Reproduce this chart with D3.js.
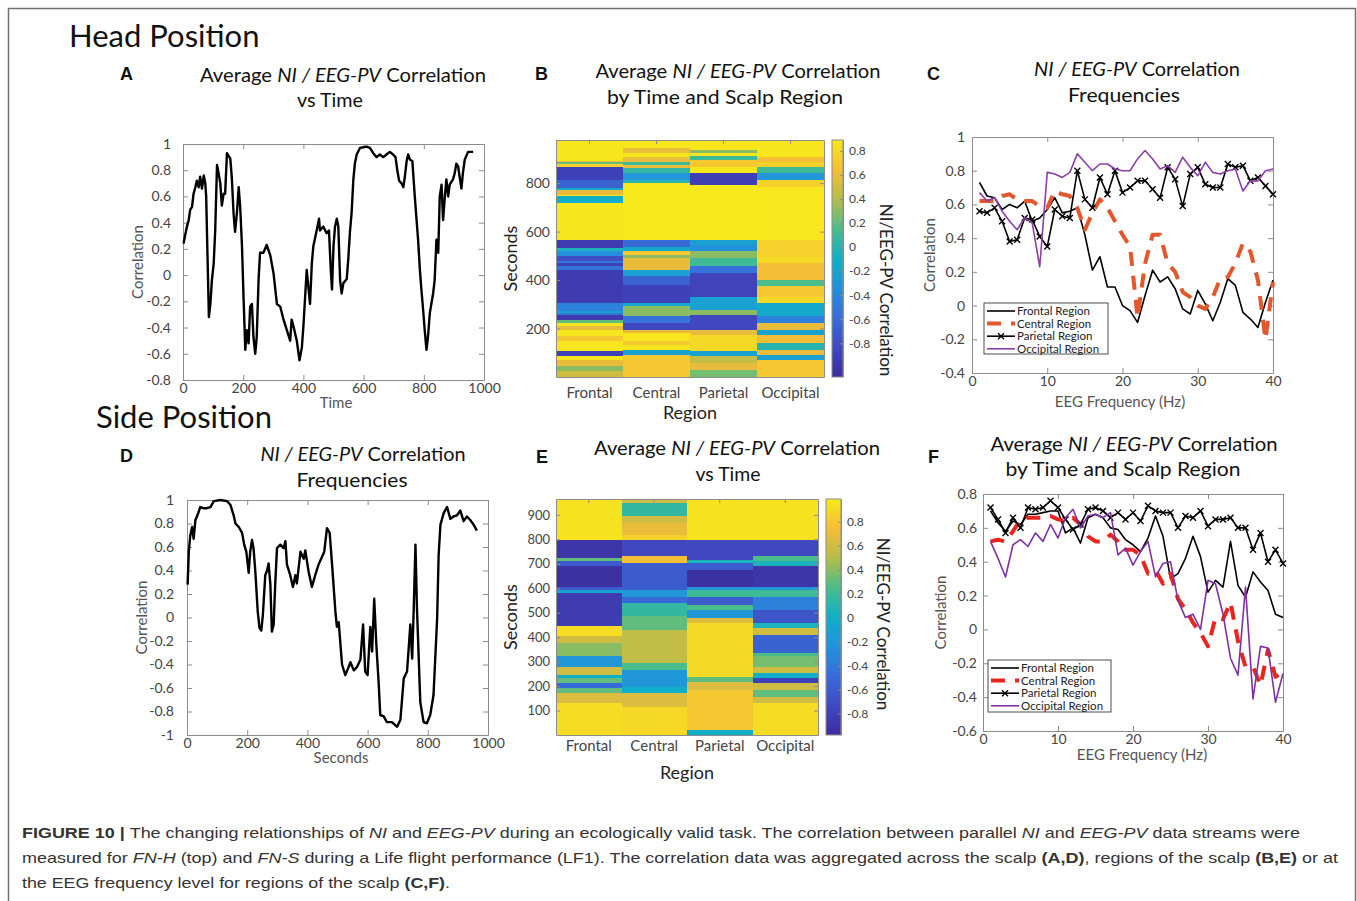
<!DOCTYPE html>
<html>
<head>
<meta charset="utf-8">
<script src="https://cdn.jsdelivr.net/npm/d3@7"></script>
<style>
  body { margin: 0; background: #fff; }
  svg { display: block; font-family: Lato, "Open Sans", sans-serif; }
</style>
</head>
<body>
<svg id="fig" width="1357" height="901"></svg>
<script>
// ---------------- data ----------------
const regions = ["Frontal", "Central", "Parietal", "Occipital"];

// A: head position, average correlation vs time
const aSeconds = [2, 6, 13, 19, 24, 30, 35, 41, 46, 52,
  57, 63, 69, 74, 77, 82, 86, 91, 96, 102,
  107, 113, 118, 124, 129, 135, 140, 146, 151, 157,
  162, 168, 173, 179, 185, 190, 196, 201, 207, 212,
  218, 223, 229, 234, 240, 245, 251, 256, 267, 278,
  290, 301, 312, 323, 334, 345, 356, 361, 367, 378,
  387, 395, 400, 411, 422, 428, 433, 444, 452, 455,
  466, 477, 485, 491, 495, 500, 505, 511, 516, 522,
  527, 533, 544, 549, 555, 560, 566, 571, 577, 588,
  610, 621, 632, 643, 654, 665, 676, 687, 698, 706,
  712, 718, 726, 732, 737, 743, 748, 754, 762, 770,
  781, 787, 792, 798, 803, 809, 814, 820, 825, 831,
  836, 842, 848, 853, 859, 864, 870, 875, 881, 886,
  897, 903, 908, 914, 919, 925, 930, 936, 947, 964];
const aCorr = [0.24, 0.29, 0.37, 0.42, 0.50, 0.52, 0.62, 0.67, 0.72, 0.67,
  0.75, 0.66, 0.76, 0.70, 0.60, 0.09, -0.32, -0.22, -0.04, 0.09,
  0.34, 0.84, 0.78, 0.70, 0.53, 0.62, 0.62, 0.93, 0.91, 0.89,
  0.75, 0.47, 0.33, 0.47, 0.67, 0.52, 0.22, -0.16, -0.57, -0.42,
  -0.52, -0.24, -0.22, -0.47, -0.60, -0.47, -0.04, 0.17, 0.17, 0.23,
  0.15, 0.01, -0.22, -0.24, -0.34, -0.42, -0.50, -0.34, -0.39, -0.50,
  -0.65, -0.55, -0.39, 0.04, -0.22, 0.09, 0.22, 0.34, 0.43, 0.34,
  0.37, 0.32, 0.34, 0.04, -0.11, 0.22, 0.37, 0.43, 0.37, -0.04,
  -0.14, -0.06, -0.03, 0.12, 0.34, 0.47, 0.73, 0.85, 0.92, 0.97,
  0.98, 0.97, 0.93, 0.90, 0.92, 0.90, 0.92, 0.94, 0.92, 0.90,
  0.80, 0.72, 0.70, 0.67, 0.75, 0.87, 0.92, 0.88, 0.87, 0.60,
  0.27, 0.04, -0.11, -0.27, -0.42, -0.57, -0.47, -0.29, -0.22, -0.14,
  -0.04, 0.27, 0.17, 0.60, 0.69, 0.42, 0.60, 0.73, 0.60, 0.69,
  0.73, 0.78, 0.85, 0.83, 0.75, 0.66, 0.78, 0.88, 0.94, 0.94];

// D: side position, correlation vs seconds
const dSeconds = [2, 6, 11, 17, 22, 28, 33, 39, 44, 55,
  66, 78, 89, 111, 133, 144, 155, 161, 172, 183,
  190, 197, 205, 210, 216, 221, 227, 235, 241, 247,
  252, 260, 266, 271, 277, 282, 288, 293, 299, 310,
  321, 327, 332, 343, 352, 360, 365, 377, 388, 393,
  404, 415, 426, 437, 449, 456, 465, 474, 482, 493,
  498, 504, 515, 526, 537, 543, 554, 565, 576, 585,
  592, 600, 609, 615, 622, 629, 637, 642, 653, 664,
  681, 698, 709, 720, 731, 742, 748, 753, 759, 764,
  775, 786, 797, 808, 819, 831, 836, 842, 853, 864,
  875, 886, 897, 908, 919, 930, 941, 952, 963];
const dCorr = [0.28, 0.56, 0.70, 0.77, 0.67, 0.83, 0.86, 0.90, 0.94, 0.93,
  0.93, 0.94, 0.99, 1.00, 0.99, 0.96, 0.87, 0.80, 0.77, 0.72,
  0.62, 0.56, 0.38, 0.56, 0.66, 0.59, 0.39, 0.05, -0.09, -0.11,
  0.02, 0.36, 0.40, 0.46, 0.28, -0.12, -0.06, 0.28, 0.59, 0.62,
  0.59, 0.65, 0.45, 0.36, 0.26, 0.36, 0.29, 0.56, 0.50, 0.57,
  0.39, 0.26, 0.36, 0.45, 0.52, 0.56, 0.76, 0.72, 0.45, 0.05,
  -0.08, -0.04, -0.40, -0.49, -0.42, -0.38, -0.45, -0.42, -0.36, -0.06,
  -0.46, -0.49, -0.08, -0.29, 0.16, -0.23, -0.57, -0.83, -0.84, -0.89,
  -0.89, -0.93, -0.87, -0.52, -0.46, -0.06, -0.35, 0.05, 0.62, 0.08,
  -0.72, -0.89, -0.90, -0.83, -0.66, -0.01, 0.53, 0.79, 0.89, 0.94,
  0.84, 0.86, 0.87, 0.91, 0.82, 0.86, 0.83, 0.79, 0.74];

// B: head position heat map, bands as [top second, correlation], each band runs down to the next
const bFrontal = [[978, 0.87], [892, 0.6], [886, 0.2], [880, 0.75], [865, -0.9], [813, -0.65], [779, -0.15],
  [772, 0.6], [751, 0.87], [745, -0.1], [720, 0.87], [566, -0.95], [532, -0.05], [518, -0.35], [500, -0.8],
  [477, -0.5], [470, -0.9], [456, -0.55], [440, -0.95], [305, -0.45], [271, -0.2], [266, -0.5], [257, -0.95],
  [236, 0.2], [223, 0.87], [209, 0.6], [195, 0.87], [170, 0.7], [150, 0.87], [106, -0.9], [85, 0.87],
  [71, 0.6], [44, 0.3], [23, 0.5]];
const bCentral = [[978, 0.87], [944, 0.6], [923, 0.87], [909, 0.6], [889, 0.1], [875, 0.6], [861, 0.05],
  [841, -0.3], [813, 0.0], [799, 0.89], [566, -0.6], [538, -0.15], [518, 0.7], [504, 0.3], [490, 0.6],
  [442, -0.2], [415, -0.65], [380, -0.9], [305, -0.15], [291, 0.3], [250, -0.55], [223, -0.85], [195, 0.6],
  [181, 0.87], [150, 0.7], [130, 0.87], [113, -0.2], [92, 0.7]];
const bParietal = [[978, 0.87], [937, 0.3], [923, 0.87], [912, 0.1], [896, 0.7], [868, 0.87], [841, -0.92],
  [793, 0.89], [566, -0.2], [545, -0.35], [518, 0.3], [490, 0.1], [456, -0.55], [429, -0.88], [332, -0.2],
  [277, 0.3], [257, -0.85], [195, 0.6], [174, 0.8], [106, -0.2], [85, 0.45], [58, 0.6], [30, 0.25]];
const bOccipital = [[978, 0.87], [909, 0.65], [889, 0.75], [868, 0.1], [841, -0.3], [813, 0.75], [786, 0.88],
  [566, 0.75], [497, 0.8], [470, 0.65], [401, 0.15], [374, 0.7], [332, 0.8], [305, -0.15], [250, -0.45],
  [223, 0.6], [195, -0.2], [174, 0.65], [140, 0.0], [113, 0.6], [92, -0.2], [71, 0.7]];

// E: side position heat map
const eFrontal = [[965, 0.95], [799, -0.9], [723, 0.3], [710, -0.6], [689, -0.95], [607, -0.6], [594, -0.1],
  [580, -0.85], [444, 0.92], [403, 0.6], [375, 0.4], [321, -0.2], [280, 0.6], [246, 0.0], [232, 0.3],
  [212, -0.5], [191, 0.3], [171, 0.65], [130, 0.92]];
const eCentral = [[965, 0.6], [949, 0.15], [894, 0.6], [867, 0.7], [819, 0.85], [799, -0.75], [730, 0.75],
  [703, -0.6], [594, -0.2], [566, -0.5], [539, 0.15], [485, 0.3], [430, 0.55], [389, 0.55], [293, 0.25],
  [266, -0.2], [198, 0.0], [171, 0.65], [116, 0.9]];
const eParietal = [[965, 0.95], [799, -0.75], [717, 0.05], [703, -0.6], [676, -0.95], [607, -0.2], [594, 0.2],
  [566, -0.6], [532, 0.25], [512, -0.2], [478, 0.65], [457, 0.9], [239, 0.3], [218, 0.65], [184, 0.8],
  [20, 0.0]];
const eOccipital = [[965, 0.95], [799, -0.75], [730, 0.25], [710, 0.05], [689, -0.9], [607, -0.2], [594, 0.2],
  [566, -0.35], [512, -0.65], [457, 0.05], [437, 0.6], [410, -0.55], [334, 0.25], [321, 0.35], [280, 0.6],
  [253, 0.0], [232, -0.8], [212, 0.6], [184, 0.3], [157, 0.6], [130, 0.92]];

// C and F: correlation by EEG frequency
const freqHz = [1, 2, 3, 4, 5, 6, 7, 8, 9, 10, 11, 12, 13, 14, 15, 16, 17, 18, 19, 20,
  21, 22, 23, 24, 25, 26, 27, 28, 29, 30, 31, 32, 33, 34, 35, 36, 37, 38, 39, 40];
const cFrontal = [0.73, 0.65, 0.64, 0.57, 0.60, 0.58, 0.62, 0.50, 0.52, 0.57, 0.64, 0.55, 0.56, 0.58, 0.42, 0.21, 0.29, 0.11, 0.11, 0.00,
  -0.03, -0.10, 0.06, 0.21, 0.14, 0.17, 0.10, -0.02, -0.05, 0.09, 0.01, -0.09, 0.02, 0.16, 0.12, -0.04, -0.08, -0.13, 0.02, 0.15];
const cCentral = [0.62, 0.62, 0.62, 0.65, 0.66, 0.63, 0.62, 0.62, 0.59, 0.58, 0.68, 0.66, 0.65, 0.58, 0.45, 0.55, 0.63, 0.58, 0.50, 0.42,
  0.35, -0.07, 0.25, 0.42, 0.42, 0.25, 0.20, 0.08, 0.05, 0.00, -0.02, 0.05, 0.16, 0.17, 0.25, 0.37, 0.32, 0.15, -0.20, 0.14];
const cParietal = [0.56, 0.55, 0.58, 0.50, 0.38, 0.39, 0.52, 0.51, 0.41, 0.35, 0.57, 0.53, 0.52, 0.80, 0.63, 0.58, 0.76, 0.66, 0.80, 0.67,
  0.70, 0.74, 0.74, 0.69, 0.64, 0.82, 0.75, 0.59, 0.78, 0.82, 0.72, 0.70, 0.70, 0.84, 0.82, 0.83, 0.74, 0.76, 0.71, 0.66];
const cOccipital = [0.67, 0.62, 0.64, 0.56, 0.50, 0.45, 0.52, 0.49, 0.23, 0.79, 0.78, 0.76, 0.79, 0.90, 0.85, 0.80, 0.84, 0.84, 0.81, 0.80,
  0.80, 0.87, 0.92, 0.87, 0.81, 0.83, 0.79, 0.88, 0.82, 0.77, 0.85, 0.79, 0.78, 0.80, 0.81, 0.68, 0.74, 0.74, 0.80, 0.81];
const fFrontal = [0.70, 0.63, 0.58, 0.64, 0.62, 0.68, 0.68, 0.69, 0.70, 0.70, 0.57, 0.60, 0.51, 0.66, 0.68, 0.66, 0.60, 0.59, 0.53, 0.50,
  0.46, 0.54, 0.67, 0.55, 0.30, 0.33, 0.42, 0.55, 0.43, 0.22, 0.29, 0.25, 0.52, 0.26, 0.19, 0.34, 0.28, 0.23, 0.09, 0.07];
const fCentral = [0.52, 0.53, 0.52, 0.58, 0.65, 0.66, 0.66, 0.66, 0.67, 0.65, 0.64, 0.66, 0.62, 0.55, 0.52, 0.52, 0.56, 0.52, 0.47, 0.47,
  0.44, 0.33, 0.35, 0.27, 0.33, 0.18, 0.12, 0.04, -0.02, -0.10, 0.07, 0.06, 0.16, -0.07, -0.22, -0.22, -0.33, -0.12, -0.28, -0.25];
const fParietal = [0.72, 0.65, 0.57, 0.66, 0.60, 0.72, 0.71, 0.72, 0.76, 0.72, 0.65, 0.59, 0.62, 0.71, 0.72, 0.70, 0.66, 0.69, 0.65, 0.69,
  0.64, 0.73, 0.70, 0.69, 0.69, 0.60, 0.67, 0.66, 0.70, 0.61, 0.65, 0.65, 0.66, 0.60, 0.60, 0.47, 0.57, 0.40, 0.47, 0.39];
const fOccipital = [0.52, 0.42, 0.31, 0.50, 0.53, 0.49, 0.57, 0.52, 0.62, 0.54, 0.66, 0.71, 0.60, 0.67, 0.68, 0.66, 0.69, 0.44, 0.48, 0.38,
  0.46, 0.52, 0.31, 0.39, 0.40, 0.17, 0.07, 0.09, 0.00, 0.29, 0.27, 0.09, -0.17, -0.27, 0.25, -0.41, -0.10, -0.11, -0.43, -0.26];

// tick values
const timeTicks = [0, 200, 400, 600, 800, 1000];
const aCorrTicks = [-0.8, -0.6, -0.4, -0.2, 0, 0.2, 0.4, 0.6, 0.8, 1];
const dCorrTicks = [-1, -0.8, -0.6, -0.4, -0.2, 0, 0.2, 0.4, 0.6, 0.8, 1];
const freqTicks = [0, 10, 20, 30, 40];
const cCorrTicks = [-0.4, -0.2, 0, 0.2, 0.4, 0.6, 0.8, 1];
const fCorrTicks = [-0.6, -0.4, -0.2, 0, 0.2, 0.4, 0.6, 0.8];
const bSecTicks = [200, 400, 600, 800];
const eSecTicks = [100, 200, 300, 400, 500, 600, 700, 800, 900];
const cbarTicks = [-0.8, -0.6, -0.4, -0.2, 0, 0.2, 0.4, 0.6, 0.8];

// parula-like colour map, evenly spaced over the colour bar range
const parula = ["#3d2c9c", "#4049c2", "#386cd8", "#2491dc", "#10afc8", "#4bbd8a", "#b4bd4a", "#f5bd38", "#f7e91b"];

// ---------------- drawing ----------------
const svg = d3.select("#fig");
const fmt = d => String(Math.round(d * 10) / 10);
const FONT = "Lato, 'Open Sans', sans-serif";

svg.append("rect")
  .attr("x", 8.5).attr("y", 8.5).attr("width", 1347).attr("height", 900)
  .attr("fill", "none").attr("stroke", "#707070").attr("stroke-width", 1.5);

function styleAxis(sel, fs) {
  sel.attr("font-family", FONT).attr("font-size", fs);
  sel.selectAll("path, line").attr("stroke", "#8c8c8c");
  sel.selectAll("text").attr("fill", "#444");
}

function axesBox(g, x, y, o) {
  const [x0, x1] = x.range();
  const [y0, y1] = y.range();
  const add = (gen, tx, ty) => g.append("g")
    .attr("transform", `translate(${tx},${ty})`)
    .call(gen).call(s => styleAxis(s, o.fs));
  add(d3.axisBottom(x).tickValues(o.xt).tickSizeInner(-5).tickSizeOuter(0).tickPadding(o.xp).tickFormat(o.xf || fmt), 0, y0);
  add(d3.axisTop(x).tickValues(o.xt).tickSizeInner(-5).tickSizeOuter(0).tickFormat(""), 0, y1);
  add(d3.axisLeft(y).tickValues(o.yt).tickSizeInner(-5).tickSizeOuter(0).tickPadding(o.yp).tickFormat(fmt), x0, 0);
  add(d3.axisRight(y).tickValues(o.yt).tickSizeInner(-5).tickSizeOuter(0).tickFormat(""), x1, 0);
}

function label(g, txt, x, y, fs, opts = {}) {
  const t = g.append("text")
    .attr("x", x).attr("y", y)
    .attr("font-family", opts.family || FONT)
    .attr("font-size", fs)
    .attr("fill", opts.fill || "#111")
    .attr("text-anchor", opts.anchor || "middle")
    .attr("font-weight", opts.weight || "normal")
    .text(txt);
  if (opts.rotate) t.attr("transform", `rotate(${opts.rotate},${x},${y})`);
  return t;
}

// multi-style line of text: parts = [[string, style]] with style "i" or "b"
function richText(g, parts, x, y, fs, len, anchor, fill) {
  const t = g.append("text")
    .attr("x", x).attr("y", y)
    .attr("font-size", fs)
    .attr("fill", fill || "#111")
    .attr("text-anchor", anchor || "middle")
    .attr("textLength", len)
    .attr("lengthAdjust", "spacingAndGlyphs");
  parts.forEach(([s, st]) => {
    t.append("tspan")
      .attr("font-style", st === "i" ? "italic" : null)
      .attr("font-weight", st === "b" ? "bold" : null)
      .text(s);
  });
  return t;
}

const avgTitle = [["Average ", ""], ["NI / EEG-PV", "i"], [" Correlation", ""]];
const corrTitle = [["NI / EEG-PV", "i"], [" Correlation", ""]];

function panelTitle(line1, w1, cx1, y1, line2, w2, cx2, y2) {
  richText(svg, line1, cx1, y1, 20, w1).attr("font-family", FONT);
  richText(svg, [[line2, ""]], cx2, y2, 20, w2).attr("font-family", FONT);
}

// section headings and panel letters
label(svg, "Head Position", 69, 47, 31, { anchor: "start", family: FONT });
label(svg, "Side Position", 96, 428, 31, { anchor: "start", family: FONT });
[["A", 120, 80], ["B", 535, 80], ["C", 927, 80], ["D", 120, 462], ["E", 536, 463], ["F", 928, 463]].forEach(([s, x, y]) =>
  label(svg, s, x, y, 18, { anchor: "start", weight: "bold", family: "'Liberation Sans', Arial, sans-serif" }));

panelTitle(avgTitle, 286, 343, 82, "vs Time", 66, 330, 107);
panelTitle(avgTitle, 285, 738, 78, "by Time and Scalp Region", 236, 725, 104);
panelTitle(corrTitle, 206, 1137, 76, "Frequencies", 112, 1124, 102);
panelTitle(corrTitle, 205, 363, 461, "Frequencies", 111, 352, 487);
panelTitle(avgTitle, 286, 737, 455, "vs Time", 65, 728, 481);
panelTitle(avgTitle, 287, 1134, 451, "by Time and Scalp Region", 235, 1123, 476);

// ---------- A and D: time series ----------
function timePanel(secs, vals, xr, yr, yDom, yTicks, xName, o) {
  const x = d3.scaleLinear().domain([0, 1000]).range(xr);
  const y = d3.scaleLinear().domain(yDom).range(yr);
  const g = svg.append("g");
  axesBox(g, x, y, { xt: timeTicks, yt: yTicks, fs: 14, xp: 3, yp: o.yp });
  g.append("path")
    .datum(vals)
    .attr("fill", "none").attr("stroke", "#000").attr("stroke-width", 2.4)
    .attr("stroke-linejoin", "round")
    .attr("d", d3.line().x((d, i) => x(secs[i])).y(d => y(d)));
  label(g, "Correlation", o.ylx, (yr[0] + yr[1]) / 2, 15, { fill: "#555", rotate: -90 });
  label(g, xName, o.xlx, o.xly, 15, { fill: "#555" });
}

timePanel(aSeconds, aCorr, [183, 484], [380, 144], [-0.8, 1], aCorrTicks, "Time", { yp: 12, ylx: 143, xlx: 336, xly: 408 });
timePanel(dSeconds, dCorr, [187, 488], [735, 500], [-1, 1], dCorrTicks, "Seconds", { yp: 13, ylx: 147, xlx: 341, xly: 763 });

// ---------- B and E: heat maps ----------
function heatPanel(cols, xr, yr, tMax, cDom, cbx, secTicks, o) {
  const x = d3.scaleBand().domain(regions).range(xr);
  const y = d3.scaleLinear().domain([0, tMax]).range(yr);
  const stops = parula.map((c, i) => cDom[0] + (cDom[1] - cDom[0]) * i / (parula.length - 1));
  const color = d3.scaleLinear().domain(stops).range(parula).clamp(true);
  const g = svg.append("g");

  cols.forEach((bands, ci) => {
    g.append("g").selectAll("rect")
      .data(bands)
      .join("rect")
      .attr("x", x(regions[ci]))
      .attr("width", x.bandwidth())
      .attr("y", d => y(d[0]))
      .attr("height", (d, j) => y(j + 1 < bands.length ? bands[j + 1][0] : 0) - y(d[0]))
      .attr("fill", d => color(d[1]))
      .attr("shape-rendering", "crispEdges");
  });

  const add = (gen, tx, ty, fs) => g.append("g").attr("transform", `translate(${tx},${ty})`)
    .call(gen).call(s => styleAxis(s, fs));
  add(d3.axisBottom(x).tickSize(0).tickPadding(o.xp), 0, yr[0], 15);
  add(d3.axisTop(x).tickSizeInner(-4).tickSizeOuter(0).tickFormat(""), 0, yr[1], 15);
  add(d3.axisLeft(y).tickValues(secTicks).tickSizeInner(-4).tickSizeOuter(0).tickPadding(6), xr[0], 0, o.yfs);
  add(d3.axisRight(y).tickValues(secTicks).tickSizeInner(-4).tickSizeOuter(0).tickFormat(""), xr[1], 0, o.yfs);

  // colour bar
  const cy = d3.scaleLinear().domain(cDom).range(yr);
  const gradId = "grad" + cbx[0];
  const grad = svg.append("defs").append("linearGradient")
    .attr("id", gradId).attr("x1", 0).attr("y1", 1).attr("x2", 0).attr("y2", 0);
  grad.selectAll("stop").data(parula).join("stop")
    .attr("offset", (d, i) => i / (parula.length - 1))
    .attr("stop-color", d => d);
  g.append("rect")
    .attr("x", cbx[0]).attr("y", yr[1])
    .attr("width", cbx[1] - cbx[0]).attr("height", yr[0] - yr[1])
    .attr("fill", `url(#${gradId})`).attr("stroke", "#8c8c8c");
  add(d3.axisRight(cy).tickValues(cbarTicks).tickSizeInner(-3).tickSizeOuter(0).tickPadding(6).tickFormat(fmt), cbx[1], 0, 12);

  label(g, "Seconds", o.slx, (yr[0] + yr[1]) / 2, 18, { fill: "#222", rotate: -90 });
  label(g, "Region", (xr[0] + xr[1]) / 2, o.rly, 18, { fill: "#222" });
  label(g, "NI/EEG-PV Correlation", o.clx, o.cly, 17, { fill: "#222", rotate: 90 });
}

heatPanel([bFrontal, bCentral, bParietal, bOccipital], [556, 824], [377, 140], 978, [-1.08, 0.89], [832, 843], bSecTicks,
  { xp: 10, yfs: 14, slx: 517, rly: 419, clx: 880, cly: 290 });
heatPanel([eFrontal, eCentral, eParietal, eOccipital], [556, 818], [735, 499], 965, [-0.98, 0.99], [826, 841], eSecTicks,
  { xp: 5, yfs: 13, slx: 517, rly: 779, clx: 877, cly: 624 });

// ---------- C and F: frequency plots ----------
const seriesStyle = [
  { name: "Frontal Region", width: 1.6, dash: null, marker: false },
  { name: "Central Region", width: 4, dash: "14,10", marker: false },
  { name: "Parietal Region", width: 1.6, dash: null, marker: true },
  { name: "Occipital Region", width: 1.6, dash: null, marker: false }
];

function freqPanel(series, colors, xr, yr, yDom, yTicks, o) {
  const x = d3.scaleLinear().domain([0, 40]).range(xr);
  const y = d3.scaleLinear().domain(yDom).range(yr);
  const g = svg.append("g");
  axesBox(g, x, y, { xt: freqTicks, yt: yTicks, fs: 14, xp: 3, yp: o.yp });

  series.forEach((vals, si) => {
    const st = seriesStyle[si];
    g.append("path")
      .datum(vals)
      .attr("fill", "none")
      .attr("stroke", colors[si])
      .attr("stroke-width", st.width)
      .attr("stroke-dasharray", st.dash)
      .attr("stroke-linejoin", "round")
      .attr("d", d3.line().x((d, i) => x(freqHz[i])).y(d => y(d)));
    if (st.marker) {
      g.append("g").selectAll("path")
        .data(vals)
        .join("path")
        .attr("transform", (d, i) => `translate(${x(freqHz[i])},${y(d)})`)
        .attr("d", "M-3,-3L3,3M-3,3L3,-3")
        .attr("stroke", colors[si]).attr("stroke-width", 1.4);
    }
  });

  // legend
  const lg = g.append("g");
  lg.append("rect")
    .attr("x", o.lx).attr("y", o.ly).attr("width", o.lw).attr("height", o.lh)
    .attr("fill", "#fff").attr("stroke", "#222").attr("stroke-width", 0.8);
  seriesStyle.forEach((st, i) => {
    const yy = o.ly + 8 + i * 12.6;
    lg.append("line")
      .attr("x1", o.lx + 3).attr("x2", o.lx + 31).attr("y1", yy).attr("y2", yy)
      .attr("stroke", colors[i]).attr("stroke-width", st.width)
      .attr("stroke-dasharray", st.dash);
    if (st.marker) {
      lg.append("path")
        .attr("transform", `translate(${o.lx + 17},${yy})`)
        .attr("d", "M-3,-3L3,3M-3,3L3,-3")
        .attr("stroke", colors[i]).attr("stroke-width", 1.4);
    }
    label(lg, st.name, o.lx + 33, yy + 4, 11.5, { anchor: "start", fill: "#222" });
  });

  label(g, "Correlation", o.ylx, (yr[0] + yr[1]) / 2, 15, { fill: "#555", rotate: -90 });
  label(g, "EEG Frequency (Hz)", o.xlx, o.xly, 15, { fill: "#555" });
}

freqPanel([cFrontal, cCentral, cParietal, cOccipital], ["#000", "#e2572b", "#000", "#8c3fa6"],
  [972, 1273], [373, 137], [-0.4, 1], cCorrTicks,
  { yp: 7, lx: 984, ly: 303, lw: 124, lh: 51, ylx: 935, xlx: 1120, xly: 407 });
freqPanel([fFrontal, fCentral, fParietal, fOccipital], ["#000", "#e8251f", "#000", "#7f31a3"],
  [983, 1283], [731, 494], [-0.6, 0.8], fCorrTicks,
  { yp: 6, lx: 988, ly: 660, lw: 123, lh: 52, ylx: 946, xlx: 1142, xly: 760 });

// ---------- caption ----------
const captionLines = [
  [[["FIGURE 10 | ", "b"], ["The changing relationships of ", ""], ["NI", "i"], [" and ", ""], ["EEG-PV", "i"],
    [" during an ecologically valid task. The correlation between parallel ", ""], ["NI", "i"], [" and ", ""],
    ["EEG-PV", "i"], [" data streams were", ""]], 838, 1278],
  [[["measured for ", ""], ["FN-H", "i"], [" (top) and ", ""], ["FN-S", "i"],
    [" during a Life flight performance (LF1). The correlation data was aggregated across the scalp ", ""],
    ["(A,D)", "b"], [", regions of the scalp ", ""], ["(B,E)", "b"], [" or at", ""]], 863, 1316],
  [[["the EEG frequency level for regions of the scalp ", ""], ["(C,F)", "b"], [".", ""]], 888, 428]
];
captionLines.forEach(([parts, y, len]) => {
  richText(svg, parts, 22, y, 15, len, "start", "#333")
    .attr("font-family", "'Liberation Sans Narrow', 'Arial Narrow', 'Liberation Sans', Arial, sans-serif");
});
</script>
</body>
</html>
